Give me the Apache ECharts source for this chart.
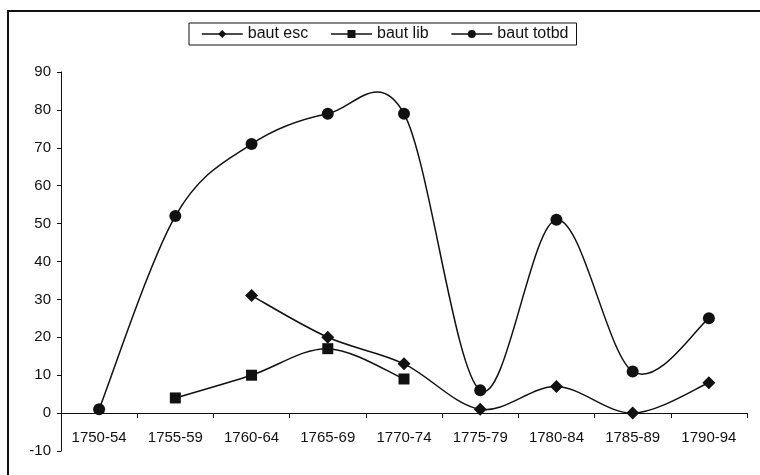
<!DOCTYPE html>
<html>
<head>
<meta charset="utf-8">
<style>
  html, body { margin: 0; padding: 0; background: #fff; }
  #chart { width: 760px; height: 475px; }
</style>
<script src="https://cdn.jsdelivr.net/npm/echarts@6/dist/echarts.min.js"></script>
</head>
<body>
<div id="chart"></div>
<script>
// Five-year periods on the category axis
const periods = ['1750-54', '1755-59', '1760-64', '1765-69', '1770-74', '1775-79', '1780-84', '1785-89', '1790-94'];

// Series values per period (null where no value exists)
const bautEsc   = [null, null, 31, 20, 13, 1, 7, 0, 8];
const bautLib   = [null, 4, 10, 17, 9, null, null, null, null];
const bautTotbd = [1, 52, 71, 79, 79, 6, 51, 11, 25];

// Value axis range
const yMin = -10, yMax = 90, yStep = 10;

const ink = '#111';
const font = 'Liberation Sans, Arial, sans-serif';
const axisText = { fontFamily: font, fontSize: 15, color: '#111' };
const legendText = { fontFamily: font, fontSize: 16, color: '#111' };

const gridTop = 72, gridBottom = 24, chartH = 475;
const plotH = chartH - gridTop - gridBottom;
// distance from the bottom of the plot to the zero line
const zeroOffset = plotH * (0 - yMin) / (yMax - yMin);

// Markers only; the connecting curve is drawn by curveSeries below
function markerSeries(name, data, symbol, size) {
  return {
    name: name,
    type: 'line',
    data: data,
    symbol: symbol,
    symbolSize: size,
    showAllSymbol: true,
    itemStyle: { color: ink },
    lineStyle: { color: ink, width: 1.5, opacity: 0 },
    emphasis: { disabled: true },
    z: 3
  };
}

// Cardinal-spline curve through consecutive points (tangent = (next - prev) / 6)
function curveSeries(name, arr) {
  return {
    name: name + ' curve',
    type: 'custom',
    data: arr.map(function (v, i) { return [i, v == null ? 0 : v]; }),
    silent: true,
    z: 2,
    renderItem: function (params, api) {
      const i = params.dataIndex;
      if (arr[i] == null || i + 1 >= arr.length || arr[i + 1] == null) return null;
      const pt = function (k) { return api.coord([k, arr[k]]); };
      const p1 = pt(i), p2 = pt(i + 1);
      const p0 = (i > 0 && arr[i - 1] != null) ? pt(i - 1) : p1;
      const p3 = (i + 2 < arr.length && arr[i + 2] != null) ? pt(i + 2) : p2;
      const t = 1 / 6;
      return {
        type: 'bezierCurve',
        shape: {
          x1: p1[0], y1: p1[1], x2: p2[0], y2: p2[1],
          cpx1: p1[0] + (p2[0] - p0[0]) * t, cpy1: p1[1] + (p2[1] - p0[1]) * t,
          cpx2: p2[0] - (p3[0] - p1[0]) * t, cpy2: p2[1] - (p3[1] - p1[1]) * t
        },
        style: { stroke: ink, lineWidth: 1.5, fill: null }
      };
    }
  };
}

const chart = echarts.init(document.getElementById('chart'), null, { renderer: 'canvas' });
chart.setOption({
  animation: false,
  backgroundColor: '#fff',
  graphic: [{
    type: 'rect',
    shape: { x: 8, y: 11, width: 800, height: 500 },
    style: { fill: 'none', stroke: '#111', lineWidth: 2 },
    silent: true
  }],
  legend: {
    left: 189,
    top: 23,
    padding: [3, 8, 3, 12],
    borderColor: '#111',
    borderWidth: 1,
    itemWidth: 41,
    itemHeight: 10,
    itemGap: 22,
    textStyle: legendText,
    lineStyle: { color: ink, width: 1.5, opacity: 1 },
    data: ['baut esc', 'baut lib', 'baut totbd']
  },
  grid: { left: 61, right: 13, top: gridTop, bottom: gridBottom, containLabel: false },
  xAxis: {
    type: 'category',
    data: periods,
    boundaryGap: true,
    offset: -zeroOffset,
    axisLine: { onZero: false, lineStyle: { color: '#111', width: 1 } },
    axisTick: { show: true, alignWithLabel: false, length: 5, lineStyle: { color: '#111' } },
    axisLabel: Object.assign({ margin: 17, interval: 0 }, axisText),
    splitLine: { show: false }
  },
  yAxis: {
    type: 'value',
    min: yMin,
    max: yMax,
    interval: yStep,
    axisLine: { show: true, lineStyle: { color: '#111', width: 1 } },
    axisTick: { show: true, length: 4, lineStyle: { color: '#111' } },
    axisLabel: Object.assign({ margin: 10 }, axisText),
    splitLine: { show: false }
  },
  series: [
    curveSeries('baut esc', bautEsc),
    curveSeries('baut lib', bautLib),
    curveSeries('baut totbd', bautTotbd),
    markerSeries('baut esc', bautEsc, 'diamond', 13),
    markerSeries('baut lib', bautLib, 'rect', 11),
    markerSeries('baut totbd', bautTotbd, 'circle', 12)
  ]
});
</script>
</body>
</html>
